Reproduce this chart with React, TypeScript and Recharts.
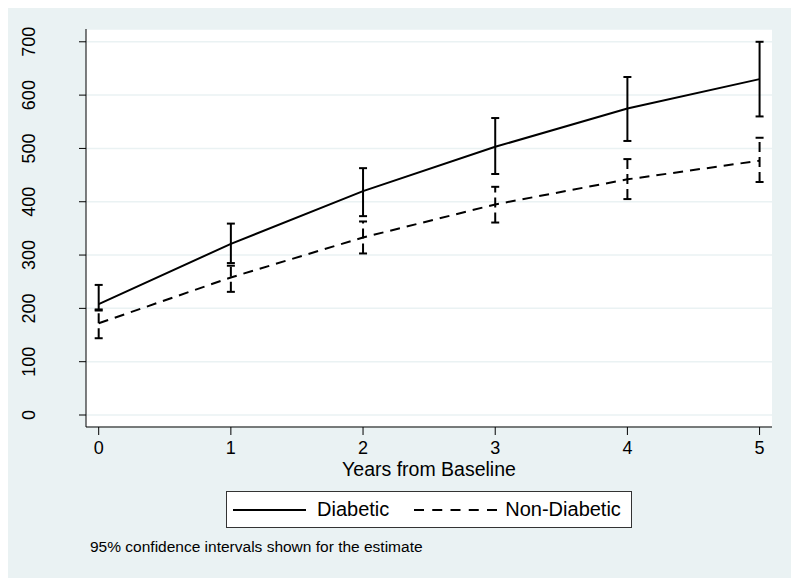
import React from "react";
import {
  ComposedChart,
  Line,
  XAxis,
  YAxis,
  CartesianGrid,
  ErrorBar,
  Legend,
} from "recharts";

// years since baseline
const years = [0, 1, 2, 3, 4, 5];

// estimates and 95% CI
const diabetic = [208, 321, 420, 503, 575, 630];
const diabeticLow = [196, 285, 373, 452, 514, 560];
const diabeticHigh = [244, 359, 463, 557, 634, 700];

const nonDiabetic = [172, 258, 333, 395, 442, 477];
const nonDiabeticLow = [144, 231, 303, 361, 405, 437];
const nonDiabeticHigh = [198, 280, 363, 428, 480, 520];

const yTicks = [0, 100, 200, 300, 400, 500, 600, 700];
const xTicks = [0, 1, 2, 3, 4, 5];

const data = years.map((yr, i) => ({
  year: yr,
  diabetic: diabetic[i],
  dErr: [diabetic[i] - diabeticLow[i], diabeticHigh[i] - diabetic[i]],
  nonDiabetic: nonDiabetic[i],
  nErr: [nonDiabetic[i] - nonDiabeticLow[i], nonDiabeticHigh[i] - nonDiabetic[i]],
}));

const FONT = '"Liberation Sans", Arial, sans-serif';
const BG = "#eaf2f3";

const YTick = (props: any) => {
  const { y, payload } = props;
  const cx = 21;
  return (
    <text
      x={cx}
      y={y}
      transform={`rotate(-90, ${cx}, ${y})`}
      textAnchor="middle"
      dominantBaseline="central"
      fontSize={18}
      fontFamily={FONT}
      fill="#000"
    >
      {payload.value}
    </text>
  );
};

const LegendBox = () => (
  <div
    style={{
      width: 404,
      height: 35,
      border: "1px solid #333",
      background: "#fff",
      display: "flex",
      alignItems: "center",
      fontFamily: FONT,
      fontSize: 20,
      color: "#000",
    }}
  >
    <svg width={80} height={10} style={{ marginLeft: 6 }}>
      <line x1={0} y1={5} x2={73} y2={5} stroke="#000" strokeWidth={2} />
    </svg>
    <span style={{ marginLeft: 4 }}>Diabetic</span>
    <svg width={90} height={10} style={{ marginLeft: 25 }}>
      <line x1={0} y1={5} x2={83} y2={5} stroke="#000" strokeWidth={2} strokeDasharray="10 8.25" />
    </svg>
    <span style={{ marginLeft: 1 }}>Non-Diabetic</span>
  </div>
);

export default function App() {
  return (
    <div style={{ position: "relative", width: 783, height: 570, background: BG }}>
      <ComposedChart
        width={783}
        height={570}
        data={data}
        margin={{ top: 21, right: 19, bottom: 101, left: 0 }}
      >
        <CartesianGrid vertical={false} stroke={BG} strokeWidth={1.5} fill="#fff" />
        <XAxis
          dataKey="year"
          type="number"
          domain={[-0.096, 5.094]}
          ticks={xTicks}
          allowDataOverflow
          height={50}
          stroke="#000"
          tickSize={8}
          tickMargin={6}
          tick={{ fontSize: 18, fontFamily: FONT, fill: "#000" }}
          label={{
            value: "Years from Baseline",
            position: "insideBottom",
            offset: 1,
            fontSize: 19.5,
            fontFamily: FONT,
            fill: "#000",
          }}
        />
        <YAxis
          type="number"
          domain={[-22.5, 724]}
          ticks={yTicks}
          allowDataOverflow
          width={78}
          stroke="#000"
          tickSize={7}
          tick={<YTick />}
        />
        <Legend
          verticalAlign="middle"
          align="center"
          layout="horizontal"
          content={() => <LegendBox />}
          wrapperStyle={{ left: 218, top: 483, width: 406 }}
        />
        <Line
          dataKey="diabetic"
          name="Diabetic"
          stroke="#000"
          strokeWidth={2}
          dot={false}
          isAnimationActive={false}
        >
          <ErrorBar dataKey="dErr" width={4} stroke="#000" strokeWidth={2} direction="y" />
        </Line>
        <Line
          dataKey="nonDiabetic"
          name="Non-Diabetic"
          stroke="#000"
          strokeWidth={2}
          strokeDasharray="10 7"
          dot={false}
          isAnimationActive={false}
        >
          <ErrorBar
            dataKey="nErr"
            width={4}
            stroke="#000"
            strokeWidth={2}
            strokeDasharray="10 5"
            direction="y"
          />
        </Line>
      </ComposedChart>
      <div
        style={{
          position: "absolute",
          left: 82,
          top: 530,
          fontFamily: FONT,
          fontSize: 15.5,
          lineHeight: "18px",
          color: "#000",
          whiteSpace: "nowrap",
        }}
      >
        95% confidence intervals shown for the estimate
      </div>
    </div>
  );
}
